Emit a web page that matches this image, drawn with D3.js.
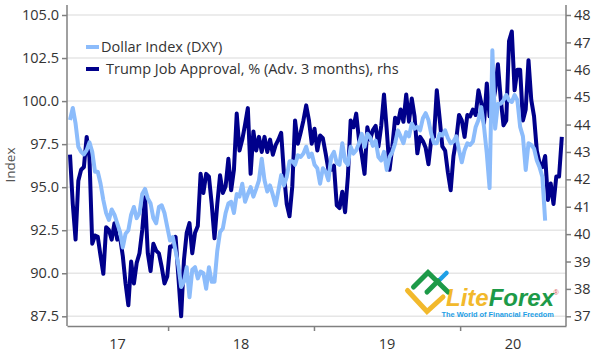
<!DOCTYPE html>
<html lang="en">
<head>
  <meta charset="UTF-8">
  <title>Dollar Index vs Trump Job Approval</title>
  <script src="https://d3js.org/d3.v7.min.js"></script>
  <style>
    html, body { margin: 0; padding: 0; background: #fff; }
    svg { display: block; }
    text { font-family: "Open Sans", "Noto Sans", sans-serif; fill: #333; }
  </style>
</head>
<body>
<div id="chart"></div>
<script>
  // weekly readings, index 0 = first week on the chart
  const dollarIndex = [
    98.9, 99.6, 98.7, 97.35, 97.05, 96.9, 97.15, 97.6, 97.05, 95.9, 95.9, 95.2, 94.25, 93.5, 93.1, 93.7, 93.4, 92.9, 92.4,
    91.5, 92.3, 92.5, 93.4, 93.85, 93.2, 93.5, 94.6, 94.9, 94.35, 94.05, 93.2, 92.9, 93.85, 93.95, 93.5, 92.7, 91.9,
    92.1, 91.3, 90.45, 89.2, 89.5, 90.35, 88.6, 90.2, 90.35, 89.7, 90.1, 90, 89.1, 90.35, 89.5, 89.5, 91.3, 92.4, 92.6,
    93.5, 94.05, 94.15, 93.5, 94.6, 94.45, 95.2, 94.15, 94.6, 95, 94.45, 94.9, 95.4, 96.65, 95.4, 94.75, 95.1,
    94.55, 93.95, 94.8, 95.7, 95.1, 95.6, 96.5, 96.5, 96.3, 96.85, 96.75, 96.95, 97.35, 96.75, 96.95, 96.3, 96.1, 95.2,
    96.1, 95.9, 95.4, 96.75, 97.05, 96.4, 96.3, 97.55, 96.5, 96.3, 97.35, 96.95, 97.15, 97.55, 98.1, 97.35, 98.1, 97.9,
    97.4, 97.7, 96.75, 96.55, 97.05, 96, 96.75, 97.05, 97.55, 98.3, 97.95, 97.55, 98.2, 97.95, 98.7, 98.4, 98.5, 98.3,
    99, 99.3, 98.9, 98.1, 97.55, 97.55, 98.1, 98, 98.3, 97.85, 97.55, 97.65, 97.95, 97.15, 96.45, 97.15, 97.55,
    97.45, 97.65, 98.5, 98.9, 99.65, 98.5, 96.95, 94.95, 102.95, 98.4, 99.85, 99.85, 100.05, 100.35, 100.05, 99.95,
    100.35, 100.05, 98.5, 97.95, 96, 97.55, 97.45, 97.25, 96.55, 96.15, 95.6, 93.05
  ];
  const jobApproval = [
    42.9, 41.1, 39.8, 41.95, 42.35, 42.45, 43.55, 42.8, 39.65, 39.95, 39.9, 39.2, 38.55, 40.25, 40.15, 39.8, 40.4, 39.8, 39.9,
    39.2, 38.2, 37.4, 39, 38.2, 38.95, 39.3, 40.15, 41.35, 39.3, 38.65, 39.65, 39.4, 39.3, 38.8, 38.2, 38.45, 39.55,
    39.55, 39.9, 38.45, 37, 39.05, 40.05, 40.4, 39.3, 40.05, 40.3, 42.2, 41.5, 42.2, 42.1, 41.1, 39.85, 41.1, 42.15, 41.5,
    41.75, 42.75, 41.6, 42.35, 44.4, 43.05, 43.45, 44, 44.6, 42.2, 43.75, 43.05, 43.55, 43, 43.55, 43, 43.45,
    42.9, 43.25, 43.45, 43.7, 42.2, 41.1, 40.65, 41.75, 44.15, 43.3, 43.7, 44.15, 44.7, 44.15, 43.3, 43.85, 43.05, 43.6,
    43.5, 42.95, 42.35, 42.35, 42.5, 41.05, 40.95, 41.55, 40.8, 42.1, 44.15, 43.9, 44.4, 43.45, 42.9, 42.2, 43.9, 43.45,
    43.8, 43.95, 43.2, 43.95, 45.1, 43.8, 42.35, 43.2, 44.25, 44.05, 44.55, 44.1, 45.1, 44.1, 44.95, 44.3, 42.95, 43.55,
    43.4, 43.15, 42.55, 43.45, 43.55, 45.25, 44.25, 43.2, 43.05, 42.25, 41.6, 42.85, 43.45, 44.35, 44.15, 43.55, 44.35,
    44.3, 44.55, 44.35, 45.25, 44.8, 44.05, 45.5, 44.3, 44.65, 45.25, 46.2, 44.95, 43.97, 44.15, 47.05, 47.4, 45.25,
    46, 46, 44.15, 44.55, 46.35, 44.9, 44.3, 43.05, 42.6, 42.45, 42.85, 41.25, 41.85, 41.1, 42.1, 42.1, 43.55
  ];
  const leftTicks = [87.5, 90, 92.5, 95, 97.5, 100, 102.5, 105];
  const rightTicks = [37, 38, 39, 40, 41, 42, 43, 44, 45, 46, 47, 48];
  const yearBreaks = [35.3, 87.8, 140.4];    // week index where a new year tick sits
  const yearLabels = ["17", "18", "19", "20"];

  const width = 599;
  const height = 357;
  const margin = { top: 5, right: 33, bottom: 31, left: 67 };
  const weekDomain = [-1.08, 178.5];

  const svg = d3.select("#chart").append("svg")
    .attr("width", width)
    .attr("height", height);

  const x = d3.scaleLinear().domain(weekDomain).range([margin.left, width - margin.right]);
  const yLeft = d3.scaleLinear().domain([105, 87.5]).range([15, 316.3]);
  const yRight = d3.scaleLinear().domain([48, 37]).range([15, 316.3]);
  const bottom = height - margin.bottom;

  // gridlines follow the left axis
  svg.append("g")
    .selectAll("line")
    .data(leftTicks)
    .join("line")
    .attr("x1", margin.left)
    .attr("x2", width - margin.right)
    .attr("y1", d => yLeft(d))
    .attr("y2", d => yLeft(d))
    .attr("stroke", "#e6e6e6")
    .attr("stroke-width", 1.5);

  const lineOf = (y) => d3.line().x((d, i) => x(i)).y(d => y(d)).curve(d3.curveLinear);

  svg.append("path")
    .datum(jobApproval)
    .attr("d", lineOf(yRight))
    .attr("fill", "none")
    .attr("stroke", "#00008b")
    .attr("stroke-width", 4)
    .attr("stroke-linejoin", "round");

  svg.append("path")
    .datum(dollarIndex)
    .attr("d", lineOf(yLeft))
    .attr("fill", "none")
    .attr("stroke", "#8cbcfb")
    .attr("stroke-width", 4)
    .attr("stroke-linejoin", "round");

  // axes
  function styleAxis(g) {
    g.selectAll("path, line").attr("stroke", "#808080").attr("stroke-width", 1.5);
    g.selectAll("text").style("font-size", "14.5px");
  }

  svg.append("g")
    .attr("transform", `translate(${margin.left},0)`)
    .call(d3.axisLeft(yLeft).tickValues(leftTicks).tickFormat(d3.format(".1f")).tickSize(5).tickSizeOuter(0))
    .call(g => g.select(".domain").attr("d", `M0,${margin.top}V${bottom}`))
    .call(styleAxis);

  svg.append("g")
    .attr("transform", `translate(${width - margin.right},0)`)
    .call(d3.axisRight(yRight).tickValues(rightTicks).tickFormat(d3.format("d")).tickSize(5).tickSizeOuter(0))
    .call(g => g.select(".domain").attr("d", `M0,${margin.top}V${bottom}`))
    .call(styleAxis);

  svg.append("g")
    .attr("transform", `translate(0,${bottom})`)
    .call(d3.axisBottom(x).tickValues(yearBreaks).tickFormat("").tickSize(5).tickSizeOuter(0))
    .call(styleAxis);

  // year labels sit in the middle of each tick interval
  const edges = [weekDomain[0], ...yearBreaks, weekDomain[1]];
  svg.append("g")
    .selectAll("text")
    .data(yearLabels)
    .join("text")
    .attr("x", (d, i) => x((edges[i] + edges[i + 1]) / 2))
    .attr("y", 345)
    .attr("text-anchor", "middle")
    .attr("dominant-baseline", "middle")
    .style("font-size", "14.5px")
    .text(d => d);

  svg.append("text")
    .attr("transform", "translate(15,165) rotate(-90)")
    .attr("text-anchor", "middle")
    .style("font-size", "13.5px")
    .style("fill", "#555")
    .text("Index");

  // legend
  const legend = [
    { label: "Dollar Index (DXY)", color: "#8cbcfb", y: 47, tx: 101 },
    { label: "Trump Job Approval, % (Adv. 3 months), rhs", color: "#00008b", y: 69, tx: 106 }
  ];
  legend.forEach(l => {
    svg.append("line")
      .attr("x1", 86).attr("x2", 99)
      .attr("y1", l.y).attr("y2", l.y)
      .attr("stroke", l.color)
      .attr("stroke-width", 4);
    svg.append("text")
      .attr("x", l.tx).attr("y", l.y + 5)
      .style("font-size", "14.5px")
      .text(l.label);
  });

  // logo
  const logo = svg.append("g").attr("fill", "none").attr("stroke-linecap", "round").attr("stroke-linejoin", "miter");
  const logoLine = d3.line();
  logo.append("path").attr("d", logoLine([[438.5, 281], [446.5, 273]])).attr("stroke", "#1e9fe6").attr("stroke-width", 4.5);
  logo.append("path").attr("d", logoLine([[407.5, 290.5], [427, 311.5], [443, 297]])).attr("stroke", "#f2b92c").attr("stroke-width", 5);
  logo.append("path").attr("d", logoLine([[413.5, 287], [428, 272.5], [448, 292]])).attr("stroke", "#1d9a48").attr("stroke-width", 5);
  logo.append("path").attr("d", logoLine([[427, 292], [438, 281]])).attr("stroke", "#1d9a48").attr("stroke-width", 5);
  const logoText = svg.append("text")
    .attr("x", 446).attr("y", 306)
    .style("font-family", "'Liberation Sans', Arial, sans-serif")
    .style("font-size", "24px")
    .style("font-weight", "bold")
    .style("font-style", "italic");
  logoText.append("tspan").style("fill", "#f2b92c").text("Lite");
  logoText.append("tspan").style("fill", "#1d9a48").text("Forex");
  svg.append("text")
    .attr("x", 441.5).attr("y", 317)
    .style("font-family", "'Liberation Sans', Arial, sans-serif")
    .style("font-size", "7.4px")
    .style("font-weight", "bold")
    .style("fill", "#1e9fe6")
    .text("The World of Financial Freedom");
  svg.append("text")
    .attr("x", 553.5).attr("y", 295)
    .style("font-family", "'Liberation Sans', Arial, sans-serif")
    .style("font-size", "7px")
    .style("fill", "#d9534f")
    .text("®");
</script>
</body>
</html>
